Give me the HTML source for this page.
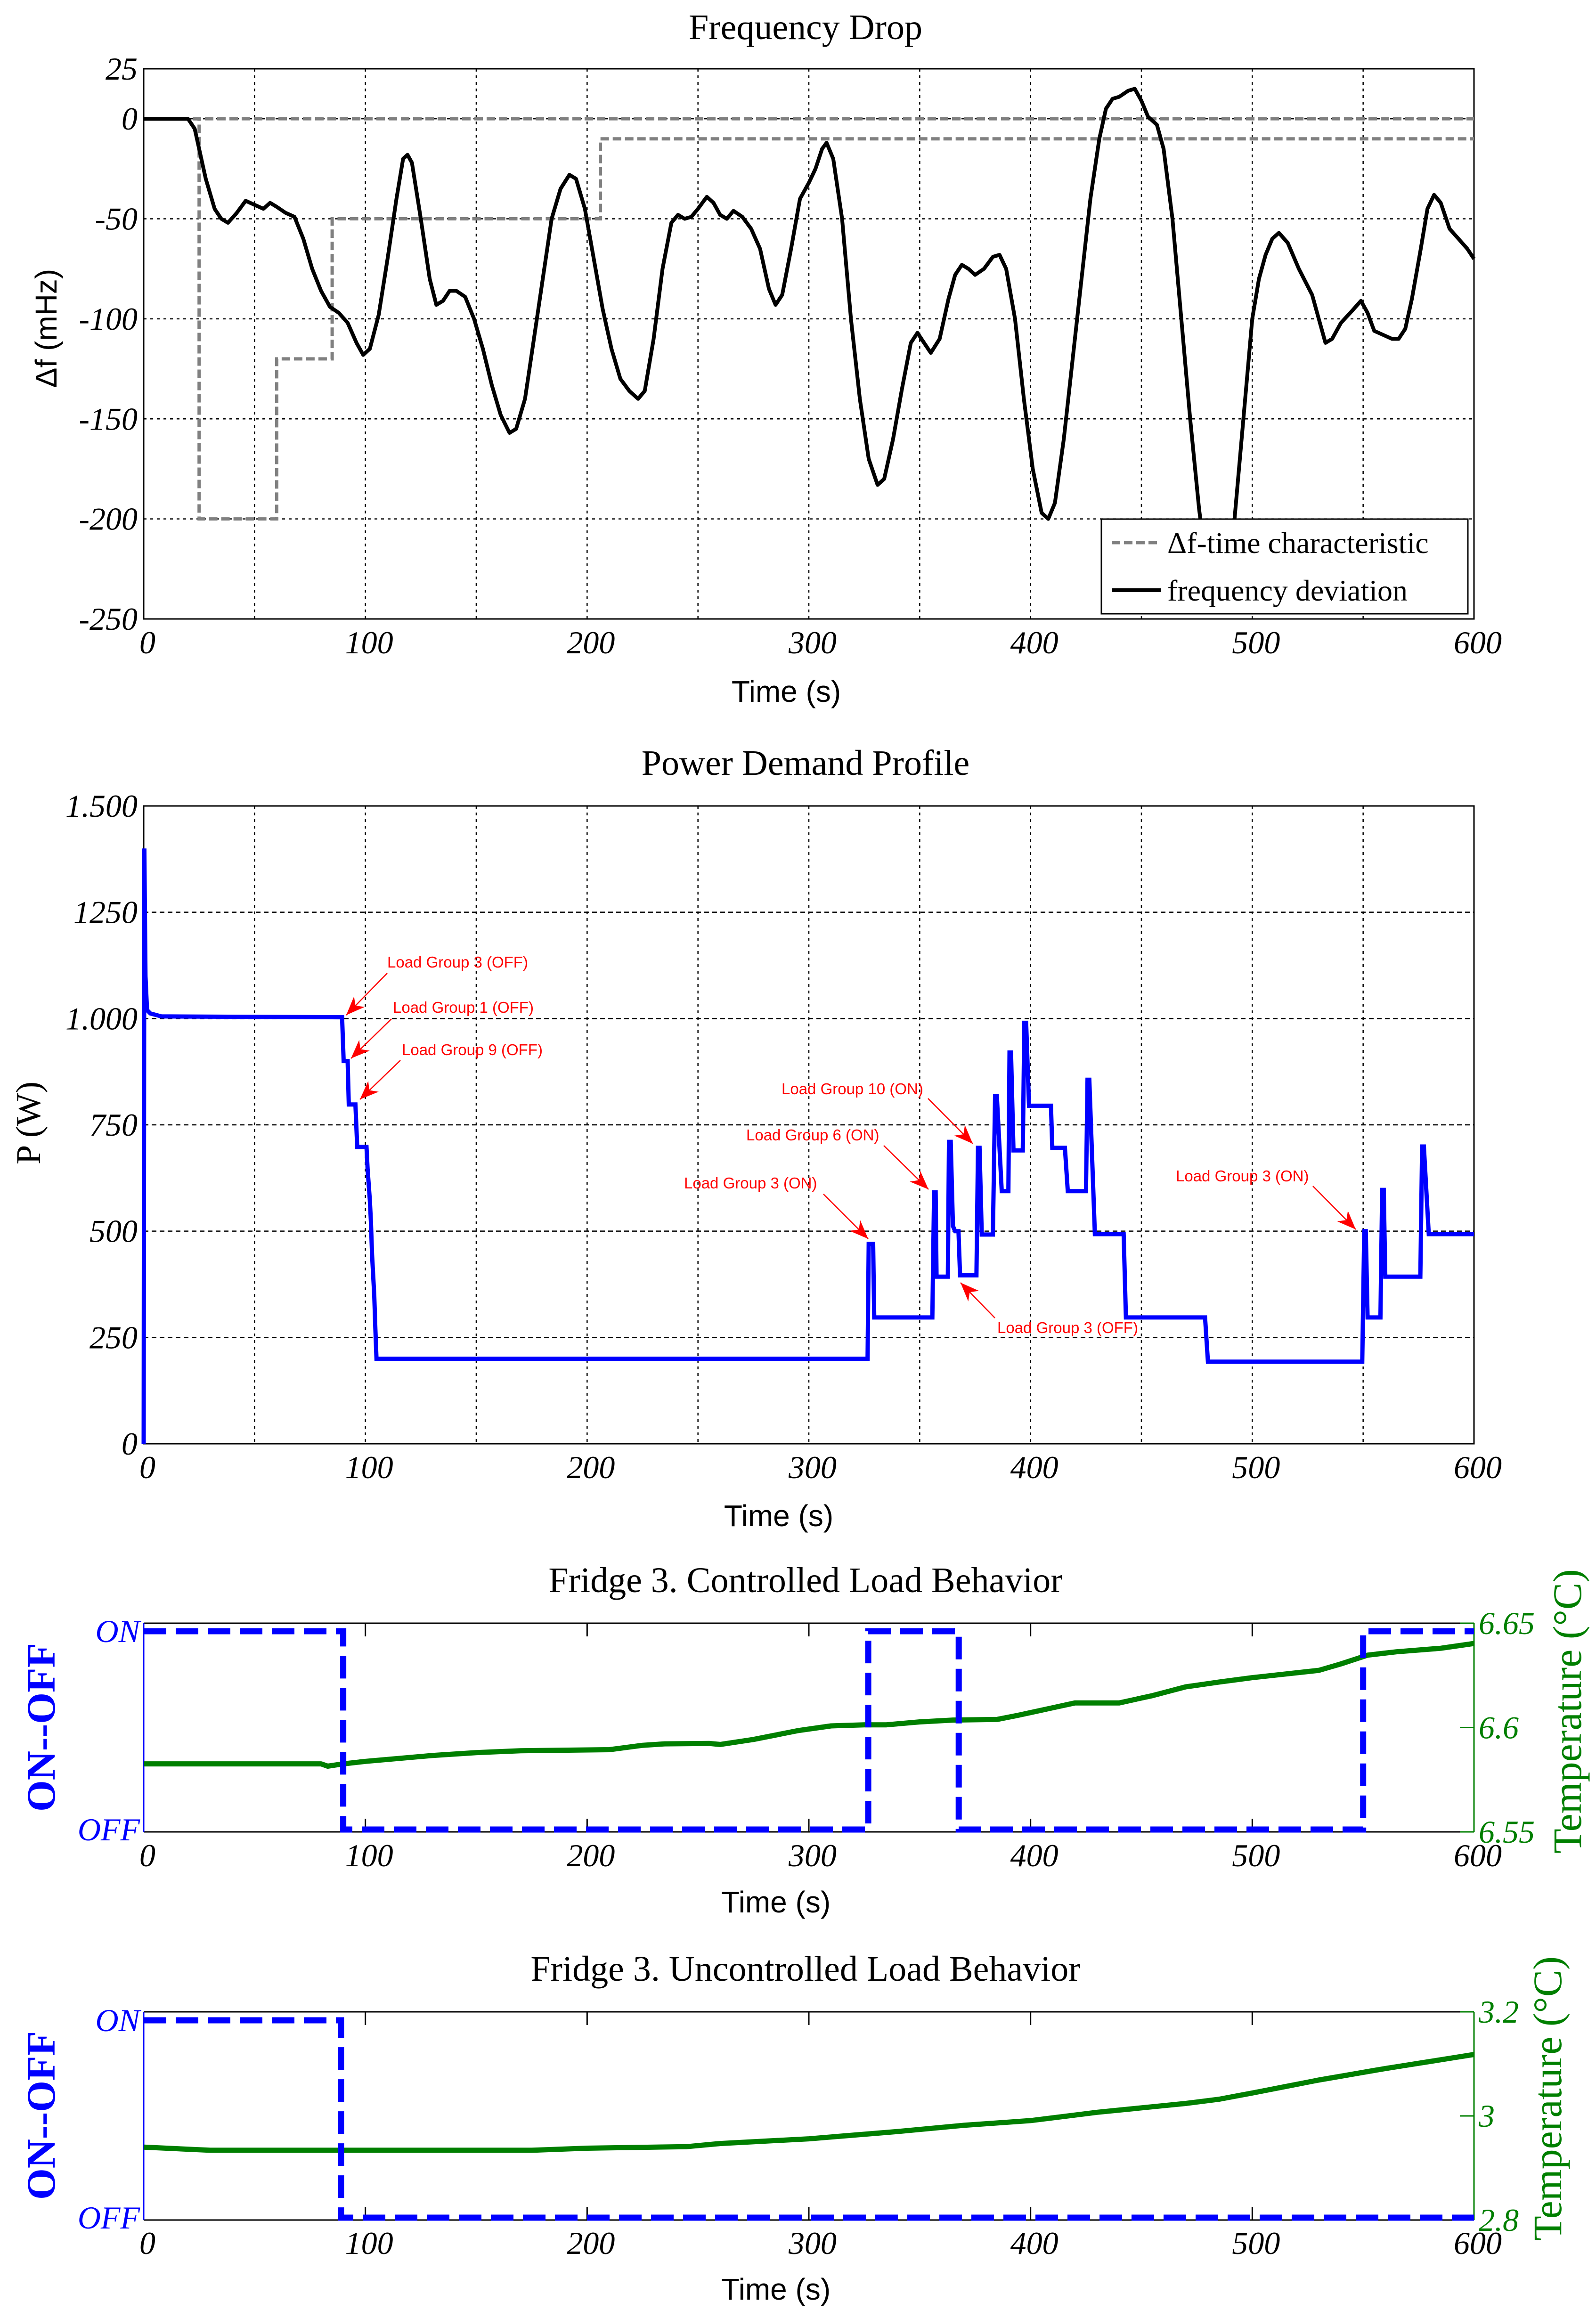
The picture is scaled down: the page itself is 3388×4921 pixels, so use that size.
<!DOCTYPE html>
<html><head><meta charset="utf-8"><title>Frequency drop and load behavior</title>
<style>
html,body{margin:0;padding:0;background:#fff;}
svg{display:block;}
.serif{font-family:"Liberation Serif",serif;}
.sans{font-family:"Liberation Sans",sans-serif;}
.tick{font-family:"Liberation Serif",serif;font-style:italic;font-size:68px;}
.ann{font-family:"Liberation Sans",sans-serif;font-size:33px;fill:#ff0000;}
</style></head>
<body>
<svg id="fig" xmlns="http://www.w3.org/2000/svg" width="3388" height="4921" viewBox="0 0 3388 4921">
<defs>
<marker id="arrb" viewBox="0 0 10 10" refX="10" refY="5" markerWidth="40" markerHeight="40" markerUnits="userSpaceOnUse" orient="auto"><path d="M0,1 L10,5 L0,9 L3,5 z" fill="#ff0000"/></marker>
</defs>
<rect width="3388" height="4921" fill="#fff"/>

<text class="serif" x="1710" y="83" font-size="76" text-anchor="middle">Frequency Drop</text>
<text class="sans" x="1669" y="1490" font-size="64" text-anchor="middle">Time (s)</text>
<text class="sans" x="0" y="0" font-size="64" text-anchor="middle" transform="translate(120,697) rotate(-90)">Δf (mHz)</text>
<g id="c1"></g>

<text class="serif" x="1710" y="1645" font-size="76" text-anchor="middle">Power Demand Profile</text>
<text class="sans" x="1653" y="3240" font-size="64" text-anchor="middle">Time (s)</text>
<text class="serif" x="0" y="0" font-size="74" text-anchor="middle" transform="translate(85,2384) rotate(-90)">P (W)</text>
<g id="c2"></g>

<text class="serif" x="1710" y="3380" font-size="76" text-anchor="middle">Fridge 3. Controlled Load Behavior</text>
<text class="sans" x="1647" y="4060" font-size="64" text-anchor="middle">Time (s)</text>
<text class="serif" x="0" y="0" font-size="86" font-weight="bold" fill="#0000ff" text-anchor="middle" transform="translate(116,3667) rotate(-90)">ON--OFF</text>
<text class="serif" x="0" y="0" font-size="86" fill="#007f00" text-anchor="middle" transform="translate(3356,3633) rotate(-90)">Temperature (°C)</text>
<g id="c3"></g>

<text class="serif" x="1710" y="4205" font-size="76" text-anchor="middle">Fridge 3. Uncontrolled Load Behavior</text>
<text class="sans" x="1647" y="4882" font-size="64" text-anchor="middle">Time (s)</text>
<text class="serif" x="0" y="0" font-size="86" font-weight="bold" fill="#0000ff" text-anchor="middle" transform="translate(116,4491) rotate(-90)">ON--OFF</text>
<text class="serif" x="0" y="0" font-size="86" fill="#007f00" text-anchor="middle" transform="translate(3314,4455) rotate(-90)">Temperature (°C)</text>
<g id="c4"></g>

<g>
<text class="ann" x="822" y="2054">Load Group 3 (OFF)</text>
<line x1="822" y1="2066" x2="735" y2="2155" stroke="#ff0000" stroke-width="2.5" marker-end="url(#arrb)"/>
<text class="ann" x="834" y="2150">Load Group 1 (OFF)</text>
<line x1="831" y1="2163" x2="745" y2="2247" stroke="#ff0000" stroke-width="2.5" marker-end="url(#arrb)"/>
<text class="ann" x="853" y="2240">Load Group 9 (OFF)</text>
<line x1="850" y1="2251" x2="764" y2="2334" stroke="#ff0000" stroke-width="2.5" marker-end="url(#arrb)"/>
<text class="ann" x="1659" y="2323">Load Group 10 (ON)</text>
<line x1="1970" y1="2332" x2="2065" y2="2428" stroke="#ff0000" stroke-width="2.5" marker-end="url(#arrb)"/>
<text class="ann" x="1584" y="2421">Load Group 6 (ON)</text>
<line x1="1876" y1="2432" x2="1971" y2="2525" stroke="#ff0000" stroke-width="2.5" marker-end="url(#arrb)"/>
<text class="ann" x="1452" y="2523">Load Group 3 (ON)</text>
<line x1="1748" y1="2535" x2="1843" y2="2630" stroke="#ff0000" stroke-width="2.5" marker-end="url(#arrb)"/>
<text class="ann" x="2117" y="2830">Load Group 3 (OFF)</text>
<line x1="2112" y1="2798" x2="2039" y2="2723" stroke="#ff0000" stroke-width="2.5" marker-end="url(#arrb)"/>
<text class="ann" x="2496" y="2508">Load Group 3 (ON)</text>
<line x1="2787" y1="2518" x2="2878" y2="2610" stroke="#ff0000" stroke-width="2.5" marker-end="url(#arrb)"/>
</g>

<g>
<rect x="2338" y="1102" width="778" height="201" fill="#fff" stroke="#000" stroke-width="3"/>
<line x1="2360" y1="1152" x2="2464" y2="1152" stroke="#808080" stroke-width="7" stroke-dasharray="18,8"/>
<text class="serif" x="2478" y="1174" font-size="64">Δf-time characteristic</text>
<line x1="2360" y1="1253" x2="2464" y2="1253" stroke="#000" stroke-width="8"/>
<text class="serif" x="2478" y="1275" font-size="64">frequency deviation</text>
</g>
</svg>

<script>
const timeTicks = [0,100,200,300,400,500,600];
const freqTickValues = [25,0,-50,-100,-150,-200,-250];
const freqTickLabels = ['25','0','-50','-100','-150','-200','-250'];
const freqT = [0,20,23,28,32,35,38,42,46,50,54,57,60,64,68,72,76,80,84,88,92,96,99,102,106,110,114,117,119,121,125,129,132,135,138,141,145,149,153,157,161,165,168,172,176,180,184,188,192,195,199,203,207,211,215,219,223,226,230,234,238,241,244,247,250,254,257,260,263,266,270,274,278,282,285,288,292,296,300,303,306,308,311,315,319,323,327,331,334,338,342,346,349,352,355,359,363,366,369,372,375,379,383,386,389,393,397,401,405,408,411,415,419,423,427,431,434,437,440,444,447,450,453,457,460,464,468,472,476,480,484,488,492,496,500,503,506,509,512,516,521,527,530,533,536,540,545,549,552,555,559,563,566,569,572,576,579,582,585,589,593,597,600];
const freqV = [0,0,-5,-30,-45,-50,-52,-47,-41,-43,-45,-42,-44,-47,-49,-60,-75,-86,-94,-97,-102,-112,-118,-115,-98,-70,-40,-20,-18,-22,-50,-80,-93,-91,-86,-86,-89,-100,-115,-133,-148,-157,-155,-140,-110,-80,-50,-35,-28,-30,-45,-70,-95,-115,-130,-136,-140,-136,-110,-75,-52,-48,-50,-49,-45,-39,-42,-48,-50,-46,-49,-55,-65,-85,-93,-88,-65,-40,-32,-25,-15,-12,-20,-50,-100,-140,-170,-183,-180,-160,-135,-112,-107,-112,-117,-110,-90,-78,-73,-75,-78,-75,-69,-68,-75,-100,-140,-175,-197,-200,-192,-160,-120,-80,-40,-10,5,10,11,14,15,9,1,-3,-15,-50,-100,-150,-195,-230,-240,-230,-200,-150,-100,-80,-68,-60,-57,-62,-75,-88,-100,-112,-110,-102,-96,-91,-97,-106,-108,-110,-110,-105,-90,-65,-45,-38,-42,-55,-60,-65,-70];
const charT = [0,25,60,85,206,600];
const charV = [0,-200,-120,-50,-10,-10];

const powerTickValues = [0,250,500,750,1000,1250,1500];
const powerTickLabels = ['0','250','500','750','1.000','1250','1.500'];
const powerT = [0,0.3,0.8,1.5,3,8,89.5,90.2,92,92.5,95.5,96.3,100.5,101,102,102.5,103,104,104.5,105,326.5,327,329,329.5,355.7,356.5,357.2,357.6,362.7,363.2,364,365,366,367.5,368.2,375.6,376.3,377,378,383,384,384.8,387,390,390.5,391.2,392.3,396.5,397.2,398,399.3,409.2,409.8,415.5,416.8,425,425.7,426.5,429,442,443,478.7,480,549.6,550.5,551.2,552,557.8,558.6,559.3,560,575.8,576.6,577.4,579.6,600];
const powerP = [0,1400,1100,1020,1012,1005,1003,900,900,798,798,698,698,645,573,522,445,348,271,200,200,470,470,297,297,591,591,393,393,710,710,512,500,500,396,396,696,696,492,492,818,818,594,594,920,920,690,690,990,990,795,795,696,696,594,594,856,856,493,493,297,297,193,193,500,500,297,297,597,597,393,393,699,699,493,493];

const ctrlStateT = [0,90,326.8,367.6,550,600];
const ctrlStateV = [1,0,1,0,1,1];
const ctrlTempT = [0,80,83,90,100,130,150,170,210,225,235,255,260,275,295,310,325,335,350,365,385,395,420,440,455,470,485,500,530,540,552,565,585,600];
const ctrlTempV = [6.5826,6.5826,6.5815,6.5826,6.5838,6.5866,6.5880,6.5889,6.5894,6.5915,6.5922,6.5924,6.5919,6.5943,6.5985,6.6008,6.6013,6.6013,6.6027,6.6036,6.6039,6.6060,6.6118,6.6118,6.6153,6.6195,6.6218,6.6239,6.6274,6.6305,6.6347,6.6363,6.6380,6.6403];
const ctrlTempTicks = [6.65,6.6,6.55];
const ctrlTempLabels = ['6.65','6.6','6.55'];

const uncStateT = [0,89,600];
const uncStateV = [1,0,0];
const uncTempT = [0,30,90,175,200,245,260,300,340,370,400,430,470,485,500,530,560,600];
const uncTempV = [2.940,2.934,2.934,2.934,2.938,2.941,2.947,2.956,2.970,2.982,2.991,3.007,3.024,3.032,3.044,3.069,3.091,3.118];
const uncTempTicks = [3.2,3.0,2.8];
const uncTempLabels = ['3.2','3','2.8'];

const NS = 'http://www.w3.org/2000/svg';
function mk(tag, attrs, parent){
  const e = document.createElementNS(NS, tag);
  for (const k in attrs) e.setAttribute(k, attrs[k]);
  parent.appendChild(e);
  return e;
}
const L = 305, R = 3129;
function xs(t){ return L + (t/600)*(R-L); }
function linScale(d0,d1,r0,r1){ return v => r0 + (v-d0)/(d1-d0)*(r1-r0); }
function linePath(T,V,fx,fy){ return T.map((t,i)=>(i?'L':'M')+fx(t).toFixed(1)+','+fy(V[i]).toFixed(1)).join(''); }
function stepPath(T,V,fx,fy){
  let d='M'+fx(T[0]).toFixed(1)+','+fy(V[0]).toFixed(1);
  for(let i=1;i<T.length;i++){ d+='L'+fx(T[i]).toFixed(1)+','+fy(V[i-1]).toFixed(1)+'L'+fx(T[i]).toFixed(1)+','+fy(V[i]).toFixed(1); }
  return d;
}

(function(){
  const g = document.getElementById('c1');
  const T0=146, B0=1314;
  const ys = linScale(25,-250,T0,B0);
  for(let t=50;t<600;t+=50){
    const gl = mk('line',{x1:xs(t),x2:xs(t),y1:T0,y2:B0,stroke:'#000','stroke-width':2.5,'stroke-dasharray':'6,8'},g);
    
    
  }
  for(let v=-200;v<=0;v+=50){
    const gl = mk('line',{x1:L,x2:R,y1:ys(v),y2:ys(v),stroke:'#000','stroke-width':2.5,'stroke-dasharray':'6,8'},g);
    
    
  }
  const fr = mk('rect',{x:L,y:T0,width:R-L,height:B0-T0,fill:'none',stroke:'#000','stroke-width':3},g);
  
  
  timeTicks.forEach(t=>{
    const tl = mk('text',{x:xs(t)+8,y:1387,'text-anchor':'middle',class:'tick'},g);
    tl.textContent = t;
    
    
  });
  freqTickValues.forEach((v,i)=>{
    const tl = mk('text',{x:292,y:ys(v)+23,'text-anchor':'end',class:'tick'},g);
    tl.textContent = freqTickLabels[i];
    
    
  });
  const zl = mk('line',{x1:L,x2:R,y1:ys(0),y2:ys(0),stroke:'#808080','stroke-width':7,'stroke-dasharray':'18,8'},g);
  
  
  const cp = mk('path',{d:stepPath(charT,charV,xs,ys),fill:'none',stroke:'#808080','stroke-width':7,'stroke-dasharray':'18,8'},g);
  
  
  const fp = mk('path',{d:linePath(freqT,freqV,xs,ys),fill:'none',stroke:'#000','stroke-width':8,'stroke-linejoin':'round'},g);
  
  
})();

(function(){
  const g = document.getElementById('c2');
  const T0=1711, B0=3065;
  const ys = linScale(0,1500,B0,T0);
  for(let t=50;t<600;t+=50){
    const gl = mk('line',{x1:xs(t),x2:xs(t),y1:T0,y2:B0,stroke:'#000','stroke-width':2.5,'stroke-dasharray':'6,8'},g);
    
    
  }
  for(let v=250;v<1500;v+=250){
    const gl = mk('line',{x1:L,x2:R,y1:ys(v),y2:ys(v),stroke:'#000','stroke-width':2.5,'stroke-dasharray':'10,7'},g);
    
    
  }
  const fr = mk('rect',{x:L,y:T0,width:R-L,height:B0-T0,fill:'none',stroke:'#000','stroke-width':3},g);
  
  
  timeTicks.forEach(t=>{
    const tl = mk('text',{x:xs(t)+8,y:3138,'text-anchor':'middle',class:'tick'},g);
    tl.textContent = t;
    
    
  });
  powerTickValues.forEach((v,i)=>{
    const tl = mk('text',{x:292,y:ys(v)+23,'text-anchor':'end',class:'tick'},g);
    tl.textContent = powerTickLabels[i];
    
    
  });
  const pp = mk('path',{d:linePath(powerT,powerP,xs,ys),fill:'none',stroke:'#0000ff','stroke-width':9,'stroke-linejoin':'miter'},g);
  
  
})();

function fridge(id, prefix, T0, B0, onY, offY, stateT, stateV, tempT, tempV, tMax, tMin, tTicks, tLabels, xlabY){
  const g = document.getElementById(id);
  const ys = linScale(0,1,offY,onY);
  const yt = linScale(tMin,tMax,B0,T0);
  const fr = mk('path',{d:`M${L},${T0}H${R}M${L},${B0}H${R}`,stroke:'#000','stroke-width':3,fill:'none'},g);
  
  
  const la = mk('line',{x1:L,x2:L,y1:T0,y2:B0,stroke:'#0000ff','stroke-width':3},g);
  
  
  const ra = mk('line',{x1:R,x2:R,y1:T0,y2:B0,stroke:'#007f00','stroke-width':3},g);
  
  
  timeTicks.forEach(t=>{
    if(t>0 && t<600){
      const tk = mk('path',{d:`M${xs(t)},${T0}v28M${xs(t)},${B0}v-28`,stroke:'#000','stroke-width':3},g);
      
      
    }
    const tl = mk('text',{x:xs(t)+8,y:xlabY,'text-anchor':'middle',class:'tick'},g);
    tl.textContent = t;
    
    
  });
  tTicks.forEach((v,i)=>{
    const tk = mk('line',{x1:R-30,x2:R,y1:yt(v),y2:yt(v),stroke:'#007f00','stroke-width':3},g);
    
    
    const tl = mk('text',{x:R+10,y:yt(v)+23,'text-anchor':'start',class:'tick',fill:'#007f00'},g);
    tl.textContent = tLabels[i];
    
    
  });
  const on = mk('text',{x:297,y:onY+23,'text-anchor':'end',class:'tick',fill:'#0000ff'},g);
  on.textContent = 'ON';
  
  
  const off = mk('text',{x:297,y:offY+23,'text-anchor':'end',class:'tick',fill:'#0000ff'},g);
  off.textContent = 'OFF';
  
  
  const tp = mk('path',{d:linePath(tempT,tempV,xs,yt),fill:'none',stroke:'#007f00','stroke-width':11,'stroke-linejoin':'round'},g);
  
  
  const sp = mk('path',{d:stepPath(stateT,stateV,xs,ys),fill:'none',stroke:'#0000ff','stroke-width':13,'stroke-dasharray':'48,20'},g);
  
  
}
fridge('c3','controlled',3446,3889,3463,3884,ctrlStateT,ctrlStateV,ctrlTempT,ctrlTempV,6.65,6.55,ctrlTempTicks,ctrlTempLabels,3962);
fridge('c4','uncontrolled',4271,4713,4289,4708,uncStateT,uncStateV,uncTempT,uncTempV,3.2,2.8,uncTempTicks,uncTempLabels,4785);
</script>
</body></html>
